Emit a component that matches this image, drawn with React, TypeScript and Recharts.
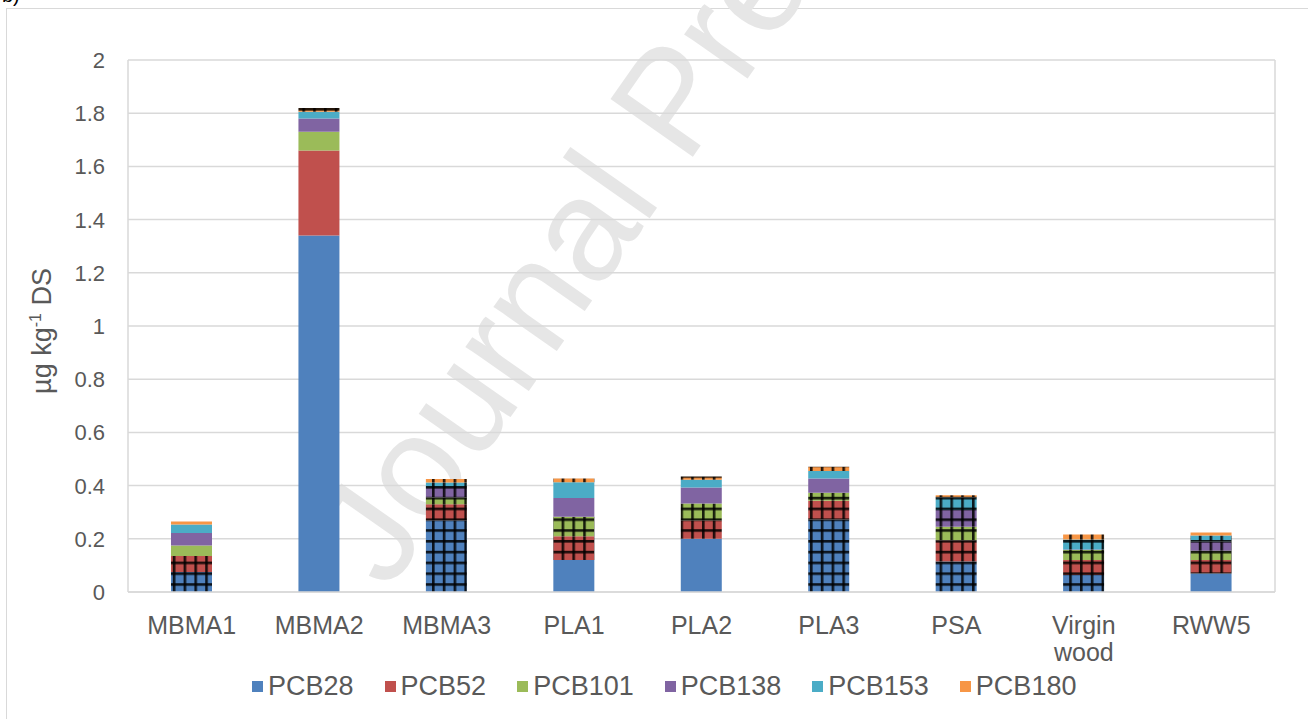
import React from 'react';
import { BarChart, Bar, Cell, XAxis, YAxis, CartesianGrid } from 'recharts';

const categories = ['MBMA1', 'MBMA2', 'MBMA3', 'PLA1', 'PLA2', 'PLA3', 'PSA', 'Virgin wood', 'RWW5'];

const pcb28 = [0.075, 1.34, 0.27, 0.12, 0.2, 0.273, 0.115, 0.064, 0.07];
const pcb52 = [0.06, 0.32, 0.06, 0.09, 0.07, 0.07, 0.08, 0.056, 0.05];
const pcb101 = [0.04, 0.07, 0.025, 0.073, 0.063, 0.03, 0.05, 0.038, 0.035];
const pcb138 = [0.047, 0.05, 0.04, 0.07, 0.06, 0.054, 0.063, 0.002, 0.034];
const pcb153 = [0.032, 0.025, 0.017, 0.06, 0.029, 0.028, 0.048, 0.037, 0.023];
const pcb180 = [0.011, 0.015, 0.013, 0.014, 0.012, 0.016, 0.008, 0.019, 0.012];

// 1 = drawn with the grid pattern (below detection limit)
const hatch28 = [1, 0, 1, 0, 0, 1, 1, 1, 0];
const hatch52 = [1, 0, 1, 1, 1, 1, 1, 1, 1];
const hatch101 = [0, 0, 1, 1, 1, 1, 1, 1, 1];
const hatch138 = [0, 0, 1, 0, 0, 0, 1, 1, 1];
const hatch153 = [0, 0, 1, 0, 0, 0, 1, 1, 1];
const hatch180 = [0, 1, 1, 1, 1, 1, 1, 1, 0];

const yTicks = [0, 0.2, 0.4, 0.6, 0.8, 1, 1.2, 1.4, 1.6, 1.8, 2];

const series = [
  { key: 'PCB28', color: '#4f81bd', values: pcb28, hatch: hatch28 },
  { key: 'PCB52', color: '#c0504d', values: pcb52, hatch: hatch52 },
  { key: 'PCB101', color: '#9bbb59', values: pcb101, hatch: hatch101 },
  { key: 'PCB138', color: '#8064a2', values: pcb138, hatch: hatch138 },
  { key: 'PCB153', color: '#4bacc6', values: pcb153, hatch: hatch153 },
  { key: 'PCB180', color: '#f79646', values: pcb180, hatch: hatch180 }
];

const data = categories.map((name, i) => {
  const row: Record<string, any> = { name };
  series.forEach(s => {
    row[s.key] = s.values[i];
  });
  return row;
});

const FONT = '"Liberation Sans", Arial, sans-serif';
const TEXT = '#595959';

const XTick = (props: any) => {
  const { x, y, payload } = props;
  const lines = String(payload.value).split(' ');
  return (
    <text x={x} y={y + 40} textAnchor="middle" fill={TEXT} fontSize={25} fontFamily={FONT}>
      {lines.map((l, i) => (
        <tspan key={i} x={x} dy={i === 0 ? 0 : 27}>
          {l}
        </tspan>
      ))}
    </text>
  );
};

const YTick = (props: any) => {
  const { x, y, payload } = props;
  return (
    <text x={x - 23} y={y + 8} textAnchor="end" fill={TEXT} fontSize={22} fontFamily={FONT}>
      {payload.value}
    </text>
  );
};

const App = () => {
  return (
    <div style={{ position: 'absolute', left: 0, top: 0, width: 1308, height: 719, overflow: 'hidden', background: '#fff' }}>
      {/* patterns shared by the bar cells */}
      <svg width={0} height={0} style={{ position: 'absolute' }}>
        <defs>
          {series.map(s => (
            <pattern key={s.key} id={`grid-${s.key}`} patternUnits="userSpaceOnUse" width={10.8} height={10.8}>
              <rect x={0} y={0} width={10.8} height={10.8} fill={s.color} />
              <rect x={0} y={0} width={2.6} height={10.8} fill="#000" fillOpacity={0.85} />
              <rect x={0} y={0} width={10.8} height={2.6} fill="#000" fillOpacity={0.85} />
            </pattern>
          ))}
        </defs>
      </svg>

      <div style={{ position: 'absolute', left: 6, top: 8, width: 1310, height: 720, border: '1.5px solid #d9d9d9' }} />
      <div style={{ position: 'absolute', left: 2, top: -16, fontFamily: FONT, fontSize: 20, color: '#000' }}>b)</div>

      {/* watermark, behind the bars */}
      <svg width={1308} height={719} style={{ position: 'absolute', left: 0, top: 0, pointerEvents: 'none' }}>
        <text
          transform="translate(388,592) rotate(-55)"
          fill="#e6e6e6"
          fontSize={146}
          fontFamily={FONT}
        >
          Journal Pre-proof
        </text>
      </svg>

      <div style={{ position: 'absolute', left: 0, top: 0 }}>
        <BarChart width={1308} height={719} data={data} margin={{ top: 60, right: 33, bottom: 0, left: 0 }} barSize={41}>
          <CartesianGrid
            stroke="#d9d9d9"
            strokeWidth={1.5}
            verticalCoordinatesGenerator={({ offset }: any) => [offset.left, offset.left + offset.width]}
          />
          <XAxis
            dataKey="name"
            height={127}
            interval={0}
            tick={<XTick />}
            tickLine={false}
            tickSize={0}
            axisLine={{ stroke: '#d9d9d9', strokeWidth: 1.5 }}
          />
          <YAxis
            width={128}
            domain={[0, 2]}
            ticks={yTicks}
            tick={<YTick />}
            tickLine={false}
            tickSize={0}
            tickMargin={0}
            axisLine={false}
          />
          {series.map(s => (
            <Bar key={s.key} dataKey={s.key} stackId="a" fill={s.color} isAnimationActive={false}>
              {data.map((_, i) => (
                <Cell key={i} fill={s.hatch[i] ? `url(#grid-${s.key})` : s.color} />
              ))}
            </Bar>
          ))}
        </BarChart>
      </div>

      {/* y axis title */}
      <svg width={80} height={300} style={{ position: 'absolute', left: 0, top: 180 }}>
        <text
          transform="translate(51,151) rotate(-90)"
          textAnchor="middle"
          fill={TEXT}
          fontSize={27}
          fontFamily={FONT}
        >
          µg kg
          <tspan fontSize={16} dy={-10}>-1</tspan>
          <tspan dy={10}> DS</tspan>
        </text>
      </svg>

      {/* legend */}
      <div
        style={{
          position: 'absolute',
          left: 252,
          top: 669,
          display: 'flex',
          fontFamily: FONT,
          fontSize: 27,
          lineHeight: '34px',
          color: TEXT
        }}
      >
        {series.map(s => (
          <div key={s.key} style={{ display: 'flex', alignItems: 'center', marginRight: 31 }}>
            <span style={{ width: 11, height: 11, background: s.color, marginRight: 5, display: 'inline-block' }} />
            <span>{s.key}</span>
          </div>
        ))}
      </div>
    </div>
  );
};

export default App;
